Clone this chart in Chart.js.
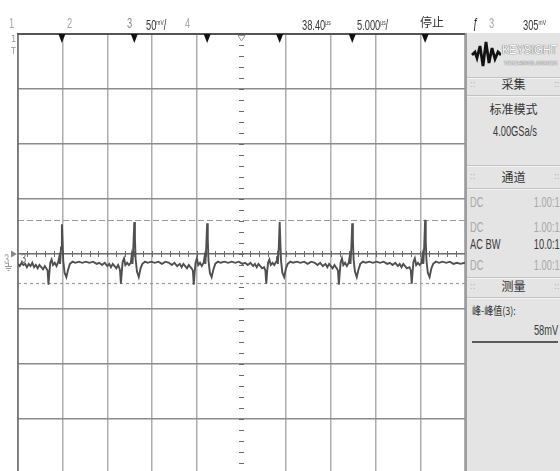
<!DOCTYPE html>
<html>
<head>
<meta charset="utf-8">
<title>Scope capture</title>
<script src="https://cdn.jsdelivr.net/npm/chart.js"></script>
<style>
  html, body { margin: 0; padding: 0; background: #fff; overflow: hidden; }
  #screen { position: relative; width: 560px; height: 471px; overflow: hidden; }
  #scope { position: absolute; left: 0; top: 0; }
  .lbl { position: absolute; white-space: nowrap; font-family: "Liberation Sans", Arial, sans-serif;
         font-size: 15px; line-height: 15px; transform: scaleX(0.62); transform-origin: 0 0; color: #3a3a3a; }
  .lbl.r { transform-origin: 100% 0; }
  .lbl .u { font-size: 8px; vertical-align: 5px; }
  .dim { color: #a8a8a8; }
  .cjk { position: absolute; white-space: nowrap; font-family: "Noto Sans CJK SC", sans-serif;
         font-size: 12px; line-height: 12px; color: #333; }
  .cjk.n { transform: scaleX(0.82); transform-origin: 0 0; font-size: 11px; }
  .ctr { left: 467px; width: 93px; text-align: center; }
  .tiny { position: absolute; font-family: "DejaVu Sans", sans-serif; font-size: 8px; line-height: 8px; color: #999; }
  #panel { position: absolute; left: 465px; top: 33px; width: 95px; height: 438px; background: #e4e4e4;
           border-left: 2px solid #9e9e9e; box-sizing: border-box; }
  .sep { position: absolute; left: 467px; width: 93px; height: 1px; background: #c2c2c2; border-bottom: 1px solid #f3f3f3; }
  .grip { position: absolute; font-family: "DejaVu Sans", sans-serif; font-size: 8px; line-height: 8px; color: #b0b0b0; }
  .brand { position: absolute; font-family: "Liberation Sans", Arial, sans-serif; color: #fff; white-space: nowrap;
           transform: scaleX(0.84); transform-origin: 0 0;
           text-shadow: 0 0 1px #777, 0 0 1px #777, 0 0 1px #888; }
</style>
</head>
<body>
<div id="screen">
  <canvas id="scope" width="560" height="471"></canvas>

  <!-- top status line -->
  <div class="lbl dim" style="left:9px;top:15px">1</div>
  <div class="lbl dim" style="left:67px;top:15px">2</div>
  <div class="lbl" style="left:127px;top:15px;color:#8c8c8c">3</div>
  <div class="lbl" style="left:146px;top:15px">50<span class="u">mV</span>/</div>
  <div class="lbl dim" style="left:185px;top:15px">4</div>
  <div class="lbl" style="left:302px;top:15px">38.40<span class="u">µs</span></div>
  <div class="lbl" style="left:357px;top:15px">5.000<span class="u">µs</span>/</div>
  <div class="cjk" style="left:420px;top:16px">停止</div>
  <div class="lbl" style="left:473px;top:15px;color:#222">ƒ</div>
  <div class="lbl dim" style="left:489px;top:15px">3</div>
  <div class="lbl" style="left:523px;top:15px">305<span class="u">mV</span></div>

  <!-- left side markers -->
  <div class="tiny" style="left:11px;top:36px">1</div>
  <div class="tiny" style="left:11px;top:48px">T</div>
  <div class="lbl dim" style="left:4px;top:251px">3</div>
  <div class="lbl" style="left:21px;top:250px;color:#666">3</div>

  <!-- right panel -->
  <div id="panel"></div>
  <svg style="position:absolute;left:471px;top:38px" width="30" height="32" viewBox="0 0 30 32">
    <polyline points="1,17 4,14 6,20 9,8 12,28 15,4 18,25 21,10 24,21 27,14 30,17"
              fill="none" stroke="#111" stroke-width="2.8" stroke-linejoin="miter"/>
  </svg>
  <div class="brand" style="left:502px;top:43px;font-size:13px;line-height:13px">KEYSIGHT</div>
  <div class="brand" style="left:504px;top:60px;font-size:6px;line-height:6px;letter-spacing:0.5px;transform:none">TECHNOLOGIES</div>

  <div class="sep" style="top:77px"></div>
  <div class="grip" style="left:470px;top:81px">::</div>
  <div class="grip" style="left:554px;top:81px">::</div>
  <div class="cjk ctr" style="top:78px">采集</div>
  <div class="sep" style="top:95px"></div>
  <div class="cjk ctr" style="top:103px">标准模式</div>
  <div class="lbl" style="left:493px;top:123px">4.00GSa/s</div>

  <div class="sep" style="top:165px"></div>
  <div class="grip" style="left:470px;top:173px">::</div>
  <div class="grip" style="left:554px;top:173px">::</div>
  <div class="cjk ctr" style="top:171px">通道</div>
  <div class="sep" style="top:188px"></div>
  <div class="lbl dim" style="left:470px;top:194px">DC</div>
  <div class="lbl dim r" style="right:0;top:194px">1.00:1</div>
  <div class="lbl dim" style="left:470px;top:219px">DC</div>
  <div class="lbl dim r" style="right:0;top:219px">1.00:1</div>
  <div class="lbl" style="left:470px;top:236px">AC BW</div>
  <div class="lbl r" style="right:0;top:236px">10.0:1</div>
  <div class="lbl dim" style="left:470px;top:257px">DC</div>
  <div class="lbl dim r" style="right:0;top:257px">1.00:1</div>

  <div class="sep" style="top:277px"></div>
  <div class="grip" style="left:470px;top:283px">::</div>
  <div class="grip" style="left:554px;top:283px">::</div>
  <div class="cjk ctr" style="top:280px">测量</div>
  <div class="sep" style="top:297px"></div>
  <div class="cjk n" style="left:472px;top:304px">峰-峰值(3):</div>
  <div class="lbl r" style="right:2px;top:322px">58mV</div>
  <div style="position:absolute;left:472px;top:341px;width:86px;height:2px;background:#5a5a5a"></div>
</div>

<script>
// channel 3 trace, [time in µs from screen centre, level in mV]
var trace = [
  [-25,-9],[-24.8,-11],[-24.6,-8],[-24.4,-10],[-24.2,-9],[-24,-12],[-23.8,-9],[-23.6,-11],[-23.4,-8],[-23.2,-12],[-23,-10],[-22.8,-13],[-22.6,-10],[-22.4,-12],[-22.2,-14],[-22,-11],[-21.84,-13],
  [-21.69,-15],[-21.59,-28],[-21.49,-17],[-21.39,-8],[-21.24,-5],[-21.09,-10],[-20.89,-8],[-20.69,-11],[-20.49,-7],[-20.39,-3],[-20.29,-9],[-20.19,6],[-20.09,27],[-20.02,12],[-19.94,-6],[-19.79,-17],[-19.59,-21],[-19.39,-14],[-19.19,-9],[-18.89,-7],
  [-18.59,-8],[-18.2,-7],[-17.8,-8],[-17.4,-7],[-17,-8],[-16.6,-7],[-16.2,-9],[-15.9,-8],[-15.6,-10],[-15.3,-8],[-15,-11],[-14.8,-9],[-14.6,-12],[-14.4,-9],[-14.2,-11],[-14,-13],[-13.8,-10],[-13.65,-13],
  [-13.59,-15],[-13.49,-27],[-13.39,-16],[-13.29,-7],[-13.14,-4],[-12.99,-10],[-12.79,-8],[-12.59,-10],[-12.39,-8],[-12.29,-2],[-12.19,-9],[-12.09,8],[-11.99,29],[-11.92,14],[-11.84,-5],[-11.69,-16],[-11.49,-21],[-11.29,-13],[-11.09,-9],[-10.79,-7],
  [-10.49,-8],[-10.1,-7],[-9.7,-8],[-9.3,-7],[-8.9,-9],[-8.5,-7],[-8.1,-8],[-7.8,-10],[-7.5,-8],[-7.2,-11],[-6.9,-9],[-6.7,-12],[-6.5,-9],[-6.3,-11],[-6.1,-13],[-5.9,-10],[-5.59,-13],
  [-5.44,-15],[-5.34,-28],[-5.24,-17],[-5.14,-8],[-4.99,-4],[-4.84,-10],[-4.64,-8],[-4.44,-11],[-4.24,-8],[-4.14,-3],[-4.04,-9],[-3.94,7],[-3.84,28],[-3.77,13],[-3.69,-6],[-3.54,-17],[-3.34,-21],[-3.14,-14],[-2.94,-9],[-2.64,-7],
  [-2.34,-8],[-1.9,-7],[-1.5,-8],[-1.1,-7],[-0.7,-8],[-0.3,-7],[0.1,-9],[0.4,-8],[0.7,-10],[1,-8],[1.3,-11],[1.5,-9],[1.7,-12],[1.9,-9],[2.1,-11],[2.3,-13],[2.52,-12],
  [2.67,-15],[2.77,-27],[2.87,-16],[2.97,-8],[3.12,-5],[3.27,-10],[3.47,-8],[3.67,-10],[3.87,-7],[3.97,-2],[4.07,-9],[4.17,6],[4.27,29],[4.34,12],[4.42,-6],[4.57,-17],[4.77,-21],[4.97,-13],[5.17,-9],[5.47,-7],
  [5.77,-8],[6.2,-7],[6.6,-8],[7,-7],[7.4,-9],[7.8,-7],[8.2,-8],[8.5,-10],[8.8,-8],[9.1,-11],[9.4,-9],[9.6,-12],[9.8,-9],[10,-11],[10.2,-13],[10.4,-10],[10.64,-13],
  [10.79,-15],[10.89,-28],[10.99,-17],[11.09,-8],[11.24,-4],[11.39,-10],[11.59,-8],[11.79,-11],[11.99,-8],[12.09,-3],[12.19,-9],[12.29,7],[12.39,28],[12.46,13],[12.54,-5],[12.69,-16],[12.89,-21],[13.09,-14],[13.29,-9],[13.59,-7],
  [13.89,-8],[14.3,-7],[14.7,-8],[15.1,-7],[15.5,-8],[15.9,-7],[16.3,-9],[16.6,-8],[16.9,-10],[17.2,-8],[17.5,-11],[17.7,-9],[17.9,-12],[18.1,-9],[18.3,-11],[18.5,-13],[18.79,-12],
  [18.94,-15],[19.04,-27],[19.14,-16],[19.24,-7],[19.39,-4],[19.54,-10],[19.74,-8],[19.94,-10],[20.14,-8],[20.24,-2],[20.34,-9],[20.44,8],[20.54,31],[20.61,12],[20.69,-6],[20.84,-17],[21.04,-21],[21.24,-13],[21.44,-9],[21.74,-7],
  [22.1,-8],[22.5,-7],[22.9,-8],[23.3,-7],[23.7,-9],[24.1,-8],[24.5,-9],[25,-8]
];
// black markers along the top edge (µs)
var pulseMarks = [-20.09, -11.99, -3.84, 4.27, 12.39, 20.54];
// graticule: 5 µs/div, 50 mV/div
var xGrid = [-25, -20, -15, -10, -5, 0, 5, 10, 15, 20, 25];
var yGrid = [-150, -100, -50, 0, 50, 100, 150, 200];
// measurement cursors (mV)
var cursorHigh = 31;
var cursorLow = -26;

function seg(c, x1, y1, x2, y2) {
    c.beginPath();
    c.moveTo(x1, y1);
    c.lineTo(x2, y2);
    c.stroke();
}

var scopeDecor = {
    id: 'scopeDecor',
    beforeDatasetsDraw: function (chart) {
        var c = chart.ctx, a = chart.chartArea, xs = chart.scales.x, ys = chart.scales.y;
        c.save();

        // cursors
        c.strokeStyle = '#9a9a9a';
        c.lineWidth = 1.2;
        c.setLineDash([6, 3]);
        var yh = Math.round(ys.getPixelForValue(cursorHigh)) + 0.5;
        seg(c, a.left, yh, a.right, yh);
        c.setLineDash([3, 3]);
        var yl = Math.round(ys.getPixelForValue(cursorLow)) + 0.5;
        seg(c, a.left, yl, a.right, yl);
        c.setLineDash([]);

        // centre ticks
        c.strokeStyle = '#6a6a6a';
        c.lineWidth = 1;
        var y0 = ys.getPixelForValue(0), x0 = xs.getPixelForValue(0);
        for (var t = -24; t <= 24; t += 1) {
            var px = Math.round(xs.getPixelForValue(t)) + 0.5;
            seg(c, px, y0 - 3, px, y0 + 3);
        }
        for (var v = -190; v < 200; v += 10) {
            var py = Math.round(ys.getPixelForValue(v)) + 0.5;
            seg(c, x0 - 2.5, py, x0 + 2.5, py);
        }

        // frame
        c.strokeStyle = '#555';
        c.lineWidth = 2;
        seg(c, a.left - 1, a.top, a.right + 2, a.top);
        c.strokeStyle = '#6a6a6a';
        c.lineWidth = 1.5;
        seg(c, a.left, a.top, a.left, a.bottom);
        c.restore();
    },
    afterDatasetsDraw: function (chart) {
        var c = chart.ctx, a = chart.chartArea, xs = chart.scales.x;
        c.save();
        c.fillStyle = '#111';
        pulseMarks.forEach(function (t) {
            var px = xs.getPixelForValue(t);
            c.beginPath();
            c.moveTo(px - 3.5, a.top);
            c.lineTo(px + 3.5, a.top);
            c.lineTo(px, a.top + 9);
            c.closePath();
            c.fill();
        });
        // trigger position marker
        var xc = xs.getPixelForValue(0);
        c.strokeStyle = '#999';
        c.lineWidth = 1;
        c.beginPath();
        c.moveTo(xc - 3.5, a.top + 1.5);
        c.lineTo(xc + 3.5, a.top + 1.5);
        c.lineTo(xc, a.top + 7);
        c.closePath();
        c.stroke();

        // channel 3 ground marker on the left
        var yg = chart.scales.y.getPixelForValue(0);
        c.fillStyle = '#8a8a8a';
        c.beginPath();
        c.moveTo(11, yg - 3.5);
        c.lineTo(17, yg);
        c.lineTo(11, yg + 3.5);
        c.closePath();
        c.fill();
        c.strokeStyle = '#9a9a9a';
        seg(c, 8.5, yg + 9, 8.5, yg + 12);
        seg(c, 5, yg + 12.5, 12, yg + 12.5);
        seg(c, 6, yg + 14.5, 11, yg + 14.5);
        seg(c, 7.5, yg + 16.5, 9.5, yg + 16.5);
        c.restore();
    }
};

var ctx = document.getElementById('scope');

var chart = new Chart(ctx, {
    type: 'line',
    data: {
        datasets: [{
            data: trace.map(function (p) { return { x: p[0], y: p[1] }; }),
            borderColor: '#505050',
            borderWidth: 1.9,
            pointRadius: 0,
            tension: 0
        }]
    },
    options: {
        responsive: false,
        animation: false,
        events: [],
        layout: { padding: { left: 18, right: 95, top: 34, bottom: 0 } },
        scales: {
            x: {
                type: 'linear', min: -25, max: 25,
                afterBuildTicks: function (s) { s.ticks = xGrid.map(function (v) { return { value: v }; }); },
                ticks: { display: false },
                border: { display: false },
                grid: {
                    drawTicks: false, lineWidth: 1.5,
                    color: function (c) { return c.tick && c.tick.value === 0 ? 'rgba(0,0,0,0)' : '#aeaeae'; }
                }
            },
            y: {
                min: -197.3, max: 200,
                afterBuildTicks: function (s) { s.ticks = yGrid.map(function (v) { return { value: v }; }); },
                ticks: { display: false },
                border: { display: false },
                grid: {
                    drawTicks: false, lineWidth: 1.5,
                    color: function (c) { return c.tick && c.tick.value === 0 ? '#6a6a6a' : '#8c8c8c'; }
                }
            }
        },
        plugins: { legend: { display: false }, tooltip: { enabled: false } }
    },
    plugins: [scopeDecor]
});
</script>
</body>
</html>
